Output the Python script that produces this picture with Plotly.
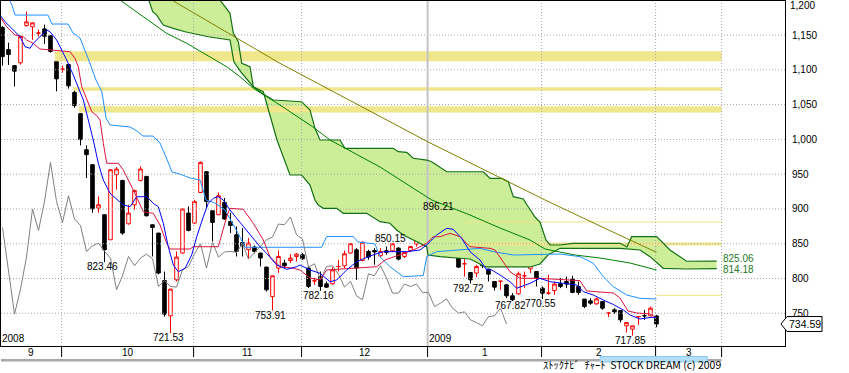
import plotly.graph_objects as go

# ---------------- data ----------------
month_labels = ['9', '10', '11', '12', '1', '2', '3']
month_bars = [10, 22, 18, 21, 19, 19, 11]      # trading-day slots per month (March = future slots)
year_labels = ['2008', '2009']
year_month_pos = [0, 4]                         # month index where each year label sits

opens = [1160.7, 1129, 1106, 1110, 1163.6, 1161.7, 1152.7, 1158.8, 1149, 1112,
         1100.9, 1107.5, 1067.6, 1037, 985.2, 963.6, 901.3, 891.7, 855.7, 949.2,
         941, 878.7, 906, 941, 946.8, 877.3, 865.3, 797.1, 746.3, 798.1,
         836.6, 894.1, 879.7, 923.7, 953.5, 897.4, 891.7, 909.4, 881.9, 862.9,
         851.8, 841.3, 845.2, 836.6, 816.4, 774.1, 815, 822.2, 825.9, 831.7,
         834.1, 815, 796.5, 802.9, 792.3, 792.4, 817.2, 818.3, 836.6, 841.3,
         826, 838.9, 840.3, 832.7, 840, 839.9, 843.7, 831.7, 840.3, 849.5,
         850.9, 872.5, 884.5, 881.2, 879.7, 865.3, 845.2, 821.1, 808.6, 807.8,
         825.9, 813.5, 795.7, 796, 790.9, 775.1, 778, 803.9, 814, 810,
         786.2, 778.9, 782.7, 792.4, 795.7, 799.1, 788.5, 770.4, 767.9, 763.6,
         766.9, 750.3, 755, 754, 732, 727.2, 745.2, 746.5, 746.3, 746.3]
highs = [1163, 1139, 1107, 1149, 1183.7, 1168, 1157.8, 1165, 1149.5, 1112.5,
         1106, 1108, 1070.5, 1037.5, 991.4, 964, 918, 892, 956.4, 960.3,
         941.5, 906, 927.6, 961.2, 947, 877.5, 865.5, 810, 785, 838.9,
         900.5, 903.7, 913.2, 968.3, 954, 898, 923.7, 915.7, 894.5, 874.8,
         872.5, 858.1, 847.5, 837, 817, 804.3, 840.3, 826.9, 835.1, 836.6,
         836.6, 818, 801, 810, 795.7, 816.4, 826.9, 840.3, 851, 843.7,
         853.3, 841.3, 843.7, 843.7, 846, 850.15, 845, 838.9, 846.5, 856,
         860.4, 882.1, 885.5, 896.21, 881, 867.6, 847.5, 827.9, 809, 819.7,
         827.9, 814, 796, 796.6, 791.3, 779, 810, 810, 818.9, 810.5,
         788.5, 805.3, 795.7, 800.6, 802.9, 803.9, 795.7, 770.8, 771.8, 772.5,
         767.2, 750.8, 757.4, 754.5, 736.9, 732.2, 745.5, 755, 759.7, 747.8]
lows = [1106, 1107, 1076, 1107.5, 1162, 1143, 1148, 1137, 1124.6, 1069,
        1096, 1073, 1045.5, 991.4, 944.5, 894.5, 894.5, 823.46, 855.7, 927.6,
        862.9, 877.3, 898.9, 939.6, 889.2, 831.7, 806, 745.3, 721.53, 795.7,
        836, 867.7, 878.3, 923, 901.3, 853.2, 891.2, 884.5, 865.3, 831.7,
        831.7, 829.4, 836, 817.3, 781.3, 753.91, 807.8, 815, 822.2, 824.5,
        826.9, 786.3, 791, 782.16, 786.2, 791, 810, 815, 836, 798.1,
        824.6, 826.9, 819.7, 830.8, 834.1, 838, 826, 829.4, 838, 846,
        846, 870, 872.5, 880, 862, 849.5, 815, 802.9, 792.72, 802,
        815, 795.7, 782.7, 783.8, 771.8, 767.82, 776.5, 786.2, 807.8, 788.5,
        770.55, 776.5, 776.5, 786.2, 786.2, 779, 776.5, 757.4, 762.2, 762.2,
        755, 744.5, 749.3, 736.7, 722.3, 717.85, 733.4, 740.6, 746, 730]
closes = [1119, 1122, 1098, 1148, 1168.9, 1167.5, 1152.9, 1148.2, 1126.4, 1087,
          1101, 1077, 1048.5, 999.6, 978, 900.3, 906, 841.3, 956.4, 957.4,
          865.3, 894.1, 926.6, 957.4, 890.2, 873.4, 807.8, 748.8, 784.8, 830.8,
          899.9, 869.1, 910.8, 966.9, 910.8, 880.6, 919, 885.5, 876.2, 838.9,
          847, 851, 838.9, 829.4, 783.8, 803.9, 831.7, 818.3, 829.4, 835.1,
          828.4, 788.6, 796.7, 788.6, 787.6, 812.5, 817.3, 835.6, 850, 815,
          852, 830.8, 838.1, 838.9, 837.6, 850, 827.9, 837.6, 846, 855.7,
          859.6, 878.3, 877.3, 888.4, 862.9, 856.7, 816.4, 821.2, 798.1, 817.3,
          818.3, 806.3, 787.6, 796.1, 775.1, 769.4, 806.8, 804, 818.7, 800.6,
          779, 779, 792, 788.5, 792, 780, 780, 759.7, 764.6, 770.8,
          757.4, 750.4, 752.1, 740.6, 736.7, 732, 745.3, 746.4, 757.4, 734.59]
chikou_shift = 25

tenkan_idx = [-0.42, 0.42, 1.53, 2.92, 3.75, 4.58, 5.13, 6.53, 7.37, 7.92, 9.03, 9.87, 10.7, 11.8,
              12.63, 13.47, 14.3, 15.13, 15.97, 16.8, 17.92, 20.13, 21.25, 22.37, 24.03, 25.13,
              25.97, 26.8, 27.63, 28.47, 29.3, 30.42, 31.53, 32.37, 33.47, 34.3, 35.13, 35.97,
              36.8, 37.92, 39.03, 40.42, 41.8, 42.92, 44.03, 45.7, 47.37, 49.03, 49.58, 51.25,
              52.92, 54.58, 55.7, 57.37, 59.03, 61.25, 63.47, 67.37, 69.58, 70.7, 72.37, 74.03,
              75.13, 76.53, 77.92, 79.58, 80.7, 81.53, 82.92, 84.58, 85.7, 86.53, 87.92, 89.58,
              91.25, 93.47, 95.7, 96.8, 98.47, 100.13, 101.8, 103.47, 104.58, 106.25, 107.92, 109.0]
tenkan_val = [1178.7, 1169.1, 1159.6, 1147.6, 1133.2, 1130.9, 1138.1, 1150.0, 1157.2, 1154.7, 1142.8,
              1128.4, 1114.1, 1092.5, 1073.4, 1056.6, 1027.8, 999.1, 965.6, 941.6, 922.5, 905.7,
              903.2, 917.6, 917.6, 908.1, 903.2, 879.4, 845.7, 819.4, 809.8, 814.7, 833.8, 860.1,
              888.8, 908.1, 915.3, 917.6, 912.9, 898.5, 886.6, 872.2, 857.8, 845.7, 836.2, 819.4,
              813.2, 817.0, 819.4, 812.3, 807.5, 795.4, 797.9, 812.3, 824.2, 832.4, 838.6, 838.6,
              841.0, 848.2, 862.6, 872.2, 870.7, 857.8, 838.6, 826.6, 812.3, 812.3, 805.1, 795.4,
              786.0, 788.3, 793.1, 800.3, 795.4, 793.1, 790.7, 781.1, 776.3, 769.1, 762.7, 754.8,
              747.6, 741.8, 744.0, 744.3]

kijun_idx = [-0.42, 0.7, 2.08, 3.47, 4.03, 5.13, 6.25, 8.47, 11.25, 12.08, 12.63, 13.2, 14.03, 14.87,
             15.7, 16.25, 16.8, 17.37, 19.3, 20.13, 21.8, 23.47, 25.13, 26.25, 27.37, 27.92, 31.25,
             31.8, 35.97, 37.37, 37.92, 40.13, 41.8, 43.47, 44.58, 46.25, 48.47, 49.58, 51.25,
             52.92, 54.03, 62.37, 63.75, 66.25, 68.47, 69.58, 70.7, 71.8, 72.92, 74.58, 76.25,
             77.92, 81.25, 82.08, 83.47, 84.58, 86.25, 89.58, 96.25, 97.37, 101.8, 102.92, 104.25,
             105.7, 107.92, 109.0]
kijun_val = [1176.3, 1161.9, 1150.0, 1147.6, 1142.8, 1138.1, 1129.9, 1128.4, 1126.0, 1116.5, 1104.4,
             1075.7, 1056.6, 1040.0, 1034.0, 1028.0, 994.4, 965.6, 965.6, 956.0, 927.2, 896.0,
             893.7, 877.0, 850.6, 842.4, 842.4, 845.7, 845.7, 888.8, 900.9, 899.5, 879.4, 855.4,
             831.4, 817.0, 814.7, 812.3, 800.7, 797.9, 812.3, 817.0, 826.6, 833.8, 841.0, 845.7,
             850.6, 860.1, 860.1, 865.0, 860.1, 845.7, 843.4, 841.0, 824.2, 809.8, 800.3, 800.3,
             796.9, 782.1, 779.2, 772.0, 753.3, 750.5, 749.0, 743.3]

base_idx = [0.92, 1.58, 2.08, 7.58, 8.25, 10.92, 11.75, 12.92, 14.25, 15.58, 16.58, 17.25, 17.92,
            21.25, 22.42, 23.42, 25.08, 26.25, 27.25, 28.25, 29.58, 31.25, 32.92, 33.92, 35.42,
            37.08, 39.25, 40.42, 53.2, 54.03, 58.47, 59.25, 62.08, 62.92, 64.58, 66.8, 70.13,
            70.7, 72.37, 79.58, 81.8, 85.13, 92.92, 96.25, 98.47, 100.13, 101.8, 104.03, 106.25, 109.0]
base_val = [1204.6, 1193.1, 1178.7, 1178.7, 1165.8, 1165.8, 1152.9, 1145.7, 1116.9, 1085.3, 1068.1,
            1030.7, 1020.7, 1017.8, 1012.0, 1004.8, 1004.8, 994.8, 974.7, 953.1, 950.2, 944.5,
            941.6, 912.9, 908.5, 898.5, 865.4, 844.9, 844.9, 860.4, 860.4, 852.5, 849.6, 831.4,
            817.0, 802.6, 804.3, 831.4, 838.6, 843.4, 838.6, 833.8, 835.2, 831.4, 821.9, 802.6,
            788.3, 776.3, 771.6, 770.6]

span_a_idx = [24.0, 25.03, 25.7, 26.8, 28.47, 30.42, 34.3, 37.92, 38.58, 39.75, 41.8, 43.42, 45.13,
              49.87, 51.25, 52.08, 52.92, 56.25, 57.08, 65.13, 65.97, 67.37, 68.47, 70.7, 71.53,
              74.03, 80.13, 81.25, 83.2, 84.3, 85.13, 86.8, 87.42, 88.75, 89.58, 90.58, 91.25,
              92.92, 95.08, 102.92, 104.08, 104.87, 109.03, 111.25, 114.03, 119.03]
span_a_val = [1210.4, 1183.5, 1178.7, 1164.4, 1159.6, 1154.7, 1147.5, 1142.8, 1111.2, 1096.8, 1075.7,
              1065.2, 1056.6, 1054.1, 1042.2, 1015.9, 999.1, 999.1, 987.2, 987.2, 982.3, 981.4,
              972.8, 970.3, 967.9, 953.5, 953.5, 944.0, 944.0, 939.2, 917.6, 914.3, 905.7, 888.4,
              881.2, 855.4, 848.2, 848.2, 850.6, 850.6, 845.3, 860.1, 860.1, 841.0, 824.8, 825.06]
span_b_idx = [35.58, 36.25, 37.92, 38.47, 39.3, 39.87, 41.25, 41.8, 43.47, 44.03, 45.75, 47.92, 49.87,
              51.25, 52.08, 52.63, 53.47, 55.7, 56.8, 60.7, 62.08, 62.92, 64.58, 65.7, 66.8, 67.92,
              69.03, 70.7, 70.92, 72.92, 76.25, 77.92, 79.25, 80.42, 87.92, 89.58, 90.92, 92.92,
              102.92, 106.25, 107.92, 110.13, 114.03, 119.03]
span_b_val = [1210.4, 1200.3, 1181.2, 1152.4, 1140.4, 1109.3, 1104.4, 1075.7, 1068.5, 1051.8, 999.1,
              948.8, 948.8, 934.4, 912.9, 905.7, 900.9, 900.9, 893.7, 893.7, 886.6, 881.7, 879.4,
              869.7, 862.6, 857.8, 852.9, 845.7, 833.8, 831.4, 829.1, 828.1, 822.3, 816.6, 816.6,
              820.9, 833.8, 843.4, 843.4, 841.0, 831.4, 814.7, 813.7, 814.18]

ma_idx = [17.08, 19.58, 23.47, 27.37, 30.7, 34.03, 37.37, 39.58, 41.8, 46.25, 51.75, 54.58, 62.92,
          71.53, 77.92, 82.92, 87.92, 90.42, 95.42, 99.58, 104.58, 109.0]
ma_val = [1214.7, 1200.3, 1176.3, 1152.4, 1138.1, 1121.3, 1104.4, 1090.1, 1073.4, 1049.4, 1017.8,
          999.1, 960.3, 912.9, 891.3, 872.6, 855.4, 842.4, 833.8, 829.5, 822.3, 812.3]

trend_idx = [26.25, 28.2, 46.25, 70.87, 90.42, 99.58, 109.0]
trend_val = [1210.1, 1200.3, 1109.3, 996.6, 912.9, 875.5, 837.7]

band_start = [8.75, 11.75, 12.75, 76.75, 77.9, 109.0]
band_lo = [1112.2, 1070.0, 1038.8, 880.5, 847.5, 774.9]
band_hi = [1126.6, 1074.8, 1047.5, 881.9, 851.8, 776.3]

low_label_bars = [17, 28, 45, 53, 78, 85, 90, 105]
high_label_bars = [65, 73]

tick_vals = [750, 800, 850, 900, 950, 1000, 1050, 1100, 1150]
top_tick = 1200
footer = 'ｽﾄｯｸﾅﾋﾞ\u00a0\u00a0ﾁｬｰﾄ\u00a0\u00a0STOCK DREAM (c) 2009'

# ---------------- derived positions ----------------
n = len(closes)
xs = list(range(n))
starts = [0]
for b in month_bars[:-1]:
    starts.append(starts[-1] + b)
end_slot = starts[-1] + month_bars[-1]
seps = [s - 0.15 for s in starts[1:]] + [end_slot - 0.15]
xmin, xmax = -0.25, 130.42
ymin, ymax = 703.0, 1198.9

FONT = 'Liberation Sans'
fig = go.Figure()

# cloud fill
fig.add_trace(go.Scatter(x=span_a_idx, y=span_a_val, mode='lines', line=dict(width=0),
                         hoverinfo='skip'))
fig.add_trace(go.Scatter(x=span_b_idx, y=span_b_val, mode='lines', line=dict(width=0),
                         fill='tonexty', fillcolor='#CCEE99', hoverinfo='skip'))

# support / resistance bands
for s, lo, hi in zip(band_start, band_lo, band_hi):
    e = seps[-1]
    fig.add_trace(go.Scatter(x=[s, e, e, s, s], y=[lo, lo, hi, hi, lo], mode='lines',
                             line=dict(width=0), fill='toself', fillcolor='#F0E68C',
                             hoverinfo='skip'))

# grid
for v in tick_vals:
    fig.add_trace(go.Scatter(x=[xmin, xmax], y=[v, v], mode='lines',
                             line=dict(color='#A8A8A8', width=1, dash='1px,2px'), hoverinfo='skip'))
year_sep = seps[year_month_pos[1] - 1]
for s in seps:
    if s == year_sep:
        fig.add_trace(go.Scatter(x=[s, s], y=[ymin, ymax], mode='lines',
                                 line=dict(color='#C4C4C4', width=2), hoverinfo='skip'))
    else:
        fig.add_trace(go.Scatter(x=[s, s], y=[ymin, ymax], mode='lines',
                                 line=dict(color='#A8A8A8', width=1, dash='1px,2px'),
                                 hoverinfo='skip'))

# cloud borders and long lines
fig.add_trace(go.Scatter(x=span_a_idx, y=span_a_val, mode='lines',
                         line=dict(color='#157015', width=1.2), hoverinfo='skip'))
fig.add_trace(go.Scatter(x=span_b_idx, y=span_b_val, mode='lines',
                         line=dict(color='#157015', width=1.2), hoverinfo='skip'))
fig.add_trace(go.Scatter(x=trend_idx, y=trend_val, mode='lines',
                         line=dict(color='#808000', width=1), hoverinfo='skip'))
fig.add_trace(go.Scatter(x=ma_idx, y=ma_val, mode='lines',
                         line=dict(color='#008000', width=1), hoverinfo='skip'))
fig.add_trace(go.Scatter(x=base_idx, y=base_val, mode='lines',
                         line=dict(color='#1E90FF', width=1), hoverinfo='skip'))
fig.add_trace(go.Scatter(x=xs[:n - chikou_shift], y=closes[chikou_shift:], mode='lines',
                         line=dict(color='#808080', width=1), hoverinfo='skip'))
fig.add_trace(go.Scatter(x=kijun_idx, y=kijun_val, mode='lines',
                         line=dict(color='#DC143C', width=1), hoverinfo='skip'))
fig.add_trace(go.Scatter(x=tenkan_idx, y=tenkan_val, mode='lines',
                         line=dict(color='#0000FF', width=1), hoverinfo='skip'))

# candles
fig.add_trace(go.Candlestick(
    x=xs, open=opens, high=highs, low=lows, close=closes,
    increasing=dict(line=dict(color='#FF0000', width=1), fillcolor='white'),
    decreasing=dict(line=dict(color='black', width=1), fillcolor='black'),
    whiskerwidth=0, hoverinfo='skip'))

annotations = []
for b in low_label_bars:
    annotations.append(dict(x=b, y=lows[b], xref='x', yref='y', text=f'{lows[b]:.2f}',
                            showarrow=False, xanchor='center', yanchor='top', xshift=-2,
                            yshift=3, font=dict(family=FONT, size=10, color='black')))
for b in high_label_bars:
    annotations.append(dict(x=b, y=highs[b], xref='x', yref='y', text=f'{highs[b]:.2f}',
                            showarrow=False, xanchor='center', yanchor='bottom', xshift=-2,
                            yshift=-2, font=dict(family=FONT, size=10, color='black')))
# cloud end values
annotations.append(dict(x=span_a_idx[-1], y=span_a_val[-1], xref='x', yref='y',
                        text=f'{span_a_val[-1]:.2f}', showarrow=False, xanchor='left',
                        yanchor='middle', xshift=4, yshift=2.5,
                        font=dict(family=FONT, size=10, color='#1E7B1E')))
annotations.append(dict(x=span_b_idx[-1], y=span_b_val[-1], xref='x', yref='y',
                        text=f'{span_b_val[-1]:.2f}', showarrow=False, xanchor='left',
                        yanchor='middle', xshift=4, yshift=-1,
                        font=dict(family=FONT, size=10, color='#1E7B1E')))
# top tick label
annotations.append(dict(x=1, y=1, xref='paper', yref='paper', text=f'{top_tick:,}',
                        showarrow=False, xanchor='left', yanchor='top', xshift=3, yshift=3,
                        font=dict(family=FONT, size=10, color='black')))
# month labels
bounds = [xmin] + seps
for k, lab in enumerate(month_labels):
    annotations.append(dict(x=(bounds[k] + bounds[k + 1]) / 2, y=0, xref='x', yref='paper',
                            text=lab, showarrow=False, xanchor='center', yanchor='middle',
                            yshift=-6, font=dict(family=FONT, size=10, color='black')))
# year labels
for lab, mpos in zip(year_labels, year_month_pos):
    xpos = xmin if mpos == 0 else seps[mpos - 1]
    annotations.append(dict(x=xpos, y=0, xref='x', yref='paper', text=lab, showarrow=False,
                            xanchor='left', yanchor='bottom', xshift=-1, yshift=0,
                            font=dict(family=FONT, size=10, color='black')))
# last price box text
annotations.append(dict(x=1, y=closes[-1], xref='paper', yref='y', text=f'{closes[-1]:.2f}',
                        showarrow=False, xanchor='center', yanchor='middle', xshift=19.5,
                        font=dict(family=FONT, size=10.5, color='black')))
# footer
annotations.append(dict(x=seps[-1], y=0, xref='x', yref='paper', text=footer, showarrow=False,
                        xanchor='right', yanchor='bottom', yshift=-27, borderpad=0,
                        font=dict(family='Noto Sans CJK JP', size=10.5, color='black')))

shapes = []
for s in seps:
    shapes.append(dict(type='line', xref='x', yref='paper', x0=s, x1=s, ysizemode='pixel',
                       yanchor=0, y0=0, y1=-11, line=dict(color='black', width=1)))
# scrollbar track and thumb
shapes.append(dict(type='rect', xref='x', yref='paper', x0=xmin, x1=seps[-1], ysizemode='pixel',
                   yanchor=0, y0=-13, y1=-15.5, fillcolor='#A8A8A8', line=dict(width=0)))
shapes.append(dict(type='rect', xref='x', yref='paper', x0=99.6, x1=117.5, ysizemode='pixel',
                   yanchor=0, y0=-10.5, y1=-16, fillcolor='#B3DEF7',
                   line=dict(color='#8CCAF0', width=1)))
# last price marker
shapes.append(dict(type='path', xref='paper', yref='y', xsizemode='pixel', ysizemode='pixel',
                   xanchor=1, yanchor=closes[-1],
                   path='M -4,0 L 2,7.5 L 37,7.5 L 37,-7.5 L 2,-7.5 Z',
                   fillcolor='white', line=dict(color='black', width=1)))

fig.update_layout(
    width=849, height=373, margin=dict(l=1, r=64, t=1, b=27),
    paper_bgcolor='white', plot_bgcolor='white', showlegend=False, boxgap=0.15,
    hovermode=False,
    xaxis=dict(range=[xmin, xmax], showgrid=False, zeroline=False, showticklabels=False,
               ticks='', showline=True, mirror=True, linecolor='black', linewidth=1,
               rangeslider=dict(visible=False), fixedrange=True),
    yaxis=dict(range=[ymin, ymax], side='right', showgrid=False, zeroline=False,
               tickvals=tick_vals, ticktext=[f'{v:,}' for v in tick_vals], ticks='',
               ticklabelstandoff=4, showline=True, mirror=True, linecolor='black', linewidth=1,
               tickfont=dict(family=FONT, size=10, color='black'), fixedrange=True),
    annotations=annotations, shapes=shapes,
)

fig.write_html('out.html', config={'displayModeBar': False},
               post_script="document.body.style.margin='0';document.body.style.overflow='hidden';")
